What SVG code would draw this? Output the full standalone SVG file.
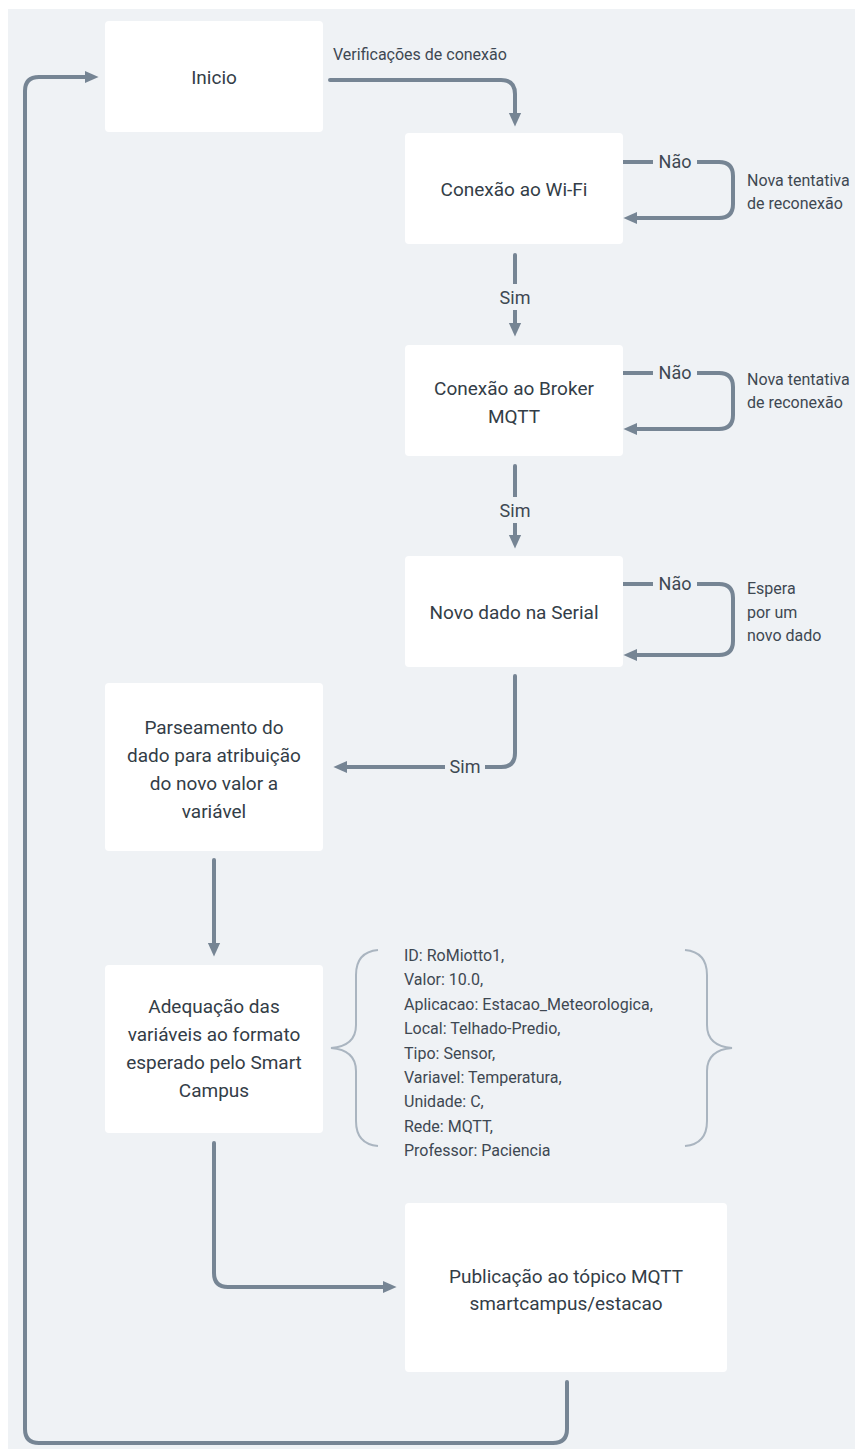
<svg xmlns="http://www.w3.org/2000/svg" width="855" height="1449" viewBox="0 0 855 1449">
<defs>
<style>
.bg{fill:#EFF2F5}
.node rect{fill:#FFFFFF}
.nt{font-family:Roboto,"Noto Sans",sans-serif;font-size:19px;fill:#333D47;text-anchor:middle}
.lbl{font-family:Roboto,"Noto Sans",sans-serif;font-size:16px;fill:#3E4852}
.cl{font-family:Roboto,"Noto Sans",sans-serif;font-size:18px;fill:#3E4852;text-anchor:middle}
.c{fill:none;stroke:#768594;stroke-width:4;stroke-linecap:round;stroke-linejoin:round}
.lb{fill:#EFF2F5}
.brace{fill:none;stroke:#AAB5C0;stroke-width:2}
</style>
<marker id="ah" viewBox="0 0 10 10" refX="1" refY="5" markerWidth="14" markerHeight="14" markerUnits="userSpaceOnUse" orient="auto">
<path d="M0,0.5 L10,5 L0,9.5 z" fill="#768594"/>
</marker>
</defs>
<rect class="bg" x="8" y="9" width="847" height="1440"/>

<g id="connectors">
<path class="c" d="M330,80 H501 Q515,80 515,94 V114" marker-end="url(#ah)"/>
<text class="lbl" x="333" y="60">Verificações de conexão</text>

<path class="c" d="M623,162 H719 Q733,162 733,176 V204 Q733,218 719,218 H636" marker-end="url(#ah)"/>
<rect class="lb" x="653" y="150" width="44" height="24"/>
<text class="cl" x="675" y="168">Não</text>
<text class="lbl" x="747" y="186">Nova tentativa</text>
<text class="lbl" x="747" y="209">de reconexão</text>

<path class="c" d="M515,255 V324" marker-end="url(#ah)"/>
<rect class="lb" x="495" y="284" width="40" height="26"/>
<text class="cl" x="515" y="304">Sim</text>

<path class="c" d="M623,373 H719 Q733,373 733,387 V415 Q733,429 719,429 H636" marker-end="url(#ah)"/>
<rect class="lb" x="653" y="361" width="44" height="24"/>
<text class="cl" x="675" y="379">Não</text>
<text class="lbl" x="747" y="385">Nova tentativa</text>
<text class="lbl" x="747" y="408">de reconexão</text>

<path class="c" d="M515,466 V536" marker-end="url(#ah)"/>
<rect class="lb" x="495" y="497" width="40" height="26"/>
<text class="cl" x="515" y="517">Sim</text>

<path class="c" d="M623,584 H719 Q733,584 733,598 V641 Q733,655 719,655 H636" marker-end="url(#ah)"/>
<rect class="lb" x="653" y="572" width="44" height="24"/>
<text class="cl" x="675" y="590">Não</text>
<text class="lbl" x="747" y="594">Espera</text>
<text class="lbl" x="747" y="618">por um</text>
<text class="lbl" x="747" y="641">novo dado</text>

<path class="c" d="M515,676 V753 Q515,767 501,767 H346" marker-end="url(#ah)"/>
<rect class="lb" x="445" y="755" width="40" height="26"/>
<text class="cl" x="465" y="773">Sim</text>

<path class="c" d="M214,860 V944" marker-end="url(#ah)"/>

<path class="c" d="M214,1143 V1273 Q214,1287 228,1287 H384" marker-end="url(#ah)"/>

<path class="c" d="M567,1382 V1429 Q567,1443 553,1443 H39 Q25,1443 25,1429 V91 Q25,77 39,77 H86" marker-end="url(#ah)"/>
</g>

<g id="inicio" class="node">
<rect x="105" y="21" width="218" height="111" rx="4"/>
<text class="nt" x="214" y="84">Inicio</text>
</g>

<g id="wifi" class="node">
<rect x="405" y="133" width="218" height="111" rx="4"/>
<text class="nt" x="514" y="196">Conexão ao Wi-Fi</text>
</g>

<g id="broker" class="node">
<rect x="405" y="345" width="218" height="111" rx="4"/>
<text class="nt" x="514" y="395">Conexão ao Broker</text>
<text class="nt" x="514" y="423">MQTT</text>
</g>

<g id="serial" class="node">
<rect x="405" y="556" width="218" height="111" rx="4"/>
<text class="nt" x="514" y="619">Novo dado na Serial</text>
</g>

<g id="parse" class="node">
<rect x="105" y="683" width="218" height="168" rx="4"/>
<text class="nt" x="214" y="734">Parseamento do</text>
<text class="nt" x="214" y="762">dado para atribuição</text>
<text class="nt" x="214" y="790">do novo valor a</text>
<text class="nt" x="214" y="818">variável</text>
</g>

<g id="adequacao" class="node">
<rect x="105" y="965" width="218" height="168" rx="4"/>
<text class="nt" x="214" y="1013">Adequação das</text>
<text class="nt" x="214" y="1041">variáveis ao formato</text>
<text class="nt" x="214" y="1069">esperado pelo Smart</text>
<text class="nt" x="214" y="1097">Campus</text>
</g>

<g id="payload">
<path class="brace" d="M378,950 Q356,952 356,975 V1025 Q356,1046 331,1048 Q356,1050 356,1071 V1121 Q356,1144 378,1146"/>
<path class="brace" d="M685,950 Q707,952 707,975 V1025 Q707,1046 732,1048 Q707,1050 707,1071 V1121 Q707,1144 685,1146"/>
<g class="lbl">
<text x="404" y="961">ID: RoMiotto1,</text>
<text x="404" y="985.4">Valor: 10.0,</text>
<text x="404" y="1009.8">Aplicacao: Estacao_Meteorologica,</text>
<text x="404" y="1034.2">Local: Telhado-Predio,</text>
<text x="404" y="1058.6">Tipo: Sensor,</text>
<text x="404" y="1083">Variavel: Temperatura,</text>
<text x="404" y="1107.4">Unidade: C,</text>
<text x="404" y="1131.8">Rede: MQTT,</text>
<text x="404" y="1156.2">Professor: Paciencia</text>
</g>
</g>

<g id="publicacao" class="node">
<rect x="405" y="1203" width="322" height="169" rx="4"/>
<text class="nt" x="566" y="1283">Publicação ao tópico MQTT</text>
<text class="nt" x="566" y="1310">smartcampus/estacao</text>
</g>
</svg>
